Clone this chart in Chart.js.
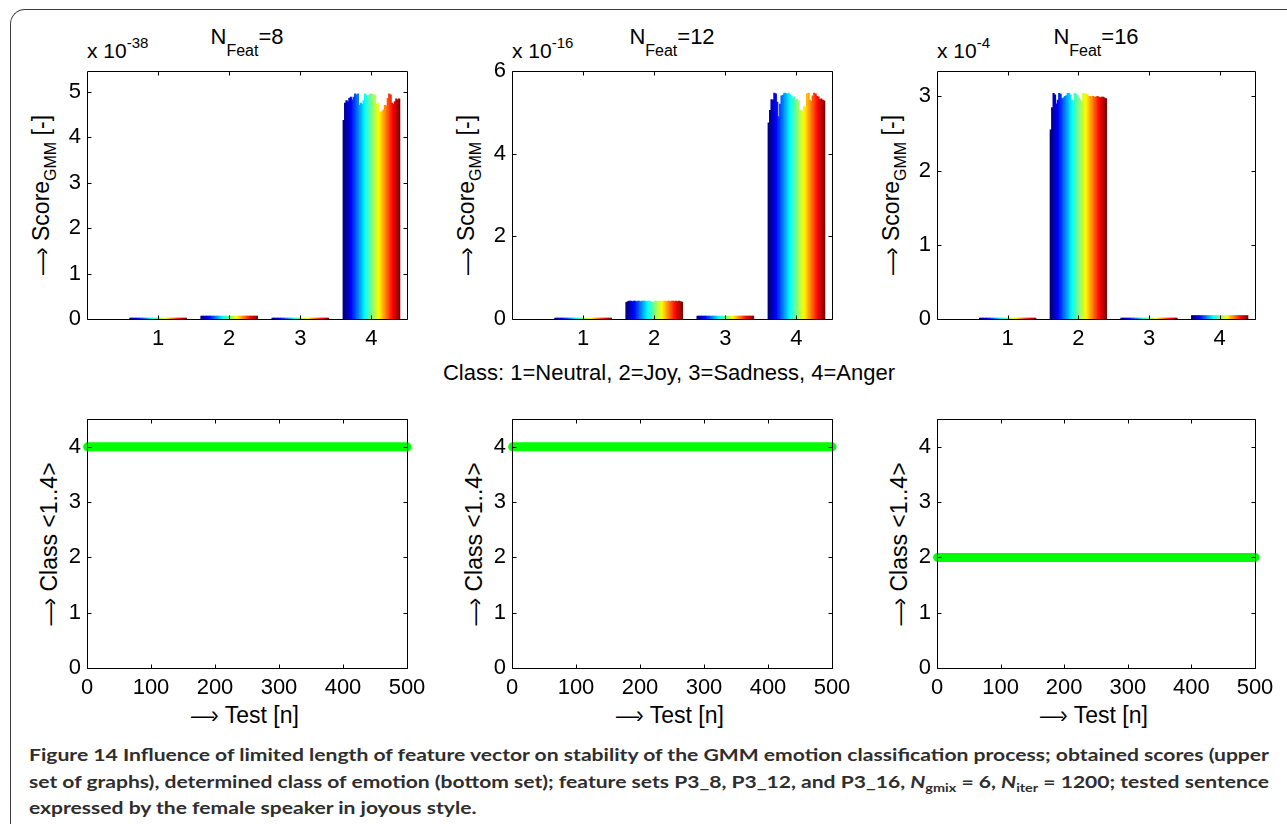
<!DOCTYPE html>
<html>
<head>
<meta charset="utf-8">
<script src="https://cdn.jsdelivr.net/npm/chart.js@4.4.1/dist/chart.umd.min.js"></script>
<style>
  html, body { margin: 0; padding: 0; background: #fff; }
  #page { position: relative; width: 1287px; height: 824px; overflow: hidden;
          font-family: "Liberation Sans", Arial, Helvetica, sans-serif; color: #000; }
  .frame { position: absolute; left: 10px; top: 9px; width: 1320px; height: 860px;
           border-left: 1.5px solid #3c3c3c; border-top: 1.5px solid #3c3c3c;
           border-top-left-radius: 15px; box-sizing: border-box; }
  canvas { position: absolute; }
  .t { position: absolute; white-space: nowrap; line-height: 1; }
  .t sub, .t sup { line-height: 0; }
  .title { font-size: 22px; transform: translateX(-50%); }
  .title sub { font-size: 16px; vertical-align: -12px; }
  .expo { font-size: 21px; }
  .expo sup { font-size: 15px; vertical-align: 10px; }
  .ylab { font-size: 23px; line-height: 23px; transform-origin: 0 0;
          transform: rotate(-90deg) translate(-50%, -50%); }
  .ylab sub { font-size: 16px; vertical-align: -7px; }
  .xlab { font-size: 23px; transform: translateX(-50%); }
  .arrow { letter-spacing: -3px; }
  .classkey { font-size: 22px; transform: translateX(-50%); }
  .cap { position: absolute; left: 29px; top: 742px; font-family: Lato, "Open Sans", sans-serif;
         font-weight: 700; font-size: 17.5px; color: #2e2e2e; }
  .capline { white-space: nowrap; height: 26.5px; line-height: 26px; transform-origin: 0 50%; }
  .capline sub { font-size: 12px; line-height: 0; vertical-align: -4px; }
</style>
</head>
<body>
<div id="page">
  <div class="frame"></div>

  <!-- score panels: titles and axis multipliers -->
  <div class="t title" style="left:247px; top:26.4px">N<sub>Feat</sub>=8</div>
  <div class="t title" style="left:672px; top:26.4px">N<sub>Feat</sub>=12</div>
  <div class="t title" style="left:1096px; top:26.4px">N<sub>Feat</sub>=16</div>
  <div class="t expo" style="left:87px; top:40.2px">x 10<sup>-38</sup></div>
  <div class="t expo" style="left:512px; top:40.2px">x 10<sup>-16</sup></div>
  <div class="t expo" style="left:937px; top:40.2px">x 10<sup>-4</sup></div>

  <div class="t ylab" style="left:41px; top:195px"><span class="arrow">—</span>› Score<sub>GMM</sub> [-]</div>
  <div class="t ylab" style="left:466px; top:195px"><span class="arrow">—</span>› Score<sub>GMM</sub> [-]</div>
  <div class="t ylab" style="left:891px; top:195px"><span class="arrow">—</span>› Score<sub>GMM</sub> [-]</div>

  <div class="t classkey" style="left:669px; top:362.4px">Class: 1=Neutral, 2=Joy, 3=Sadness, 4=Anger</div>

  <!-- class panels: axis titles -->
  <div class="t ylab" style="left:48.5px; top:544px"><span class="arrow">—</span>› Class &lt;1..4&gt;</div>
  <div class="t ylab" style="left:473.5px; top:544px"><span class="arrow">—</span>› Class &lt;1..4&gt;</div>
  <div class="t ylab" style="left:898.5px; top:544px"><span class="arrow">—</span>› Class &lt;1..4&gt;</div>
  <div class="t xlab" style="left:245px; top:703.5px"><span class="arrow">—</span>› Test [n]</div>
  <div class="t xlab" style="left:670px; top:703.5px"><span class="arrow">—</span>› Test [n]</div>
  <div class="t xlab" style="left:1094px; top:703.5px"><span class="arrow">—</span>› Test [n]</div>

  <div class="cap">
    <div class="capline" data-fit="1269">Figure 14 Influence of limited length of feature vector on stability of the GMM emotion classification process; obtained scores (upper</div>
    <div class="capline" data-fit="1269">set of graphs), determined class of emotion (bottom set); feature sets P3_8, P3_12, and P3_16, <i>N</i><sub>gmix</sub> = 6, <i>N</i><sub>iter</sub> = 1200; tested sentence</div>
    <div class="capline">expressed by the female speaker in joyous style.</div>
  </div>
</div>

<script>
// ---- data -------------------------------------------------------------
const classTicks = [1, 2, 3, 4];          // 1=Neutral, 2=Joy, 3=Sadness, 4=Anger

// GMM scores, one bar series per test run (runs coloured blue -> red)
// N_Feat = 8, scores in units of 1e-38
const scoreF8Neutral = [0.02,0.02,0.02,0.02,0.02,0.02,0.02,0.02,0.02,0.02,0.02,0.02,0.02,0.02,0.02,0.02,0.02,0.02,0.02,0.02,0.02,0.02,0.02,0.02,0.02,0.02,0.02,0.02,0.02,0.02,0.02,0.02,0.02,0.02,0.02,0.02,0.02,0.02,0.02,0.02];
const scoreF8Joy     = [0.06,0.06,0.06,0.06,0.06,0.06,0.06,0.06,0.06,0.06,0.06,0.06,0.06,0.06,0.06,0.06,0.06,0.06,0.06,0.06,0.06,0.06,0.06,0.06,0.06,0.06,0.06,0.06,0.06,0.06,0.06,0.06,0.06,0.06,0.06,0.06,0.06,0.06,0.06,0.06];
const scoreF8Sadness = [0.02,0.02,0.02,0.02,0.02,0.02,0.02,0.02,0.02,0.02,0.02,0.02,0.02,0.02,0.02,0.02,0.02,0.02,0.02,0.02,0.02,0.02,0.02,0.02,0.02,0.02,0.02,0.02,0.02,0.02,0.02,0.02,0.02,0.02,0.02,0.02,0.02,0.02,0.02,0.02];
const scoreF8Anger   = [4.37,4.75,4.80,4.78,4.85,4.88,4.82,4.88,4.95,4.93,4.95,4.70,4.75,4.72,4.80,4.95,4.92,4.85,4.93,4.95,4.94,4.90,4.93,4.72,4.75,4.55,4.55,4.56,4.60,4.70,4.68,4.85,4.95,4.93,4.75,4.72,4.78,4.84,4.82,4.84];

// N_Feat = 12, scores in units of 1e-16
const scoreF12Neutral = [0.02,0.02,0.02,0.02,0.02,0.02,0.02,0.02,0.02,0.02,0.02,0.02,0.02,0.02,0.02,0.02,0.02,0.02,0.02,0.02,0.02,0.02,0.02,0.02,0.02,0.02,0.02,0.02,0.02,0.02,0.02,0.02,0.02,0.02,0.02,0.02,0.02,0.02,0.02,0.02];
const scoreF12Joy     = [0.40,0.42,0.43,0.43,0.42,0.43,0.43,0.42,0.43,0.43,0.42,0.43,0.43,0.43,0.42,0.43,0.43,0.42,0.40,0.41,0.43,0.43,0.42,0.43,0.43,0.42,0.43,0.43,0.42,0.43,0.43,0.42,0.43,0.43,0.42,0.43,0.42,0.43,0.42,0.41];
const scoreF12Sadness = [0.07,0.07,0.07,0.07,0.07,0.07,0.07,0.07,0.07,0.07,0.07,0.07,0.07,0.07,0.07,0.07,0.07,0.07,0.07,0.07,0.07,0.07,0.07,0.07,0.07,0.07,0.07,0.07,0.07,0.07,0.07,0.07,0.07,0.07,0.07,0.07,0.07,0.07,0.07,0.07];
const scoreF12Anger   = [4.75,5.05,5.31,5.30,5.47,5.45,5.25,4.90,5.20,5.40,5.42,5.47,5.46,5.44,5.47,5.43,5.40,5.35,5.38,5.30,5.32,5.28,5.03,5.05,5.02,5.15,5.12,5.45,5.47,5.30,5.27,5.40,5.47,5.45,5.39,5.38,5.31,5.33,5.30,5.28];

// N_Feat = 16, scores in units of 1e-4
const scoreF16Neutral = [0.01,0.01,0.01,0.01,0.01,0.01,0.01,0.01,0.01,0.01,0.01,0.01,0.01,0.01,0.01,0.01,0.01,0.01,0.01,0.01,0.01,0.01,0.01,0.01,0.01,0.01,0.01,0.01,0.01,0.01,0.01,0.01,0.01,0.01,0.01,0.01,0.01,0.01,0.01,0.01];
const scoreF16Joy     = [2.55,2.85,3.04,3.02,2.90,2.95,3.04,3.03,2.97,2.98,3.00,3.01,3.04,3.04,3.02,2.95,2.94,3.04,3.03,3.01,2.98,2.95,2.93,3.04,3.04,3.03,3.02,3.00,3.00,2.99,3.00,2.99,2.99,3.00,2.99,2.98,2.99,2.99,2.98,2.97];
const scoreF16Sadness = [0.01,0.01,0.01,0.01,0.01,0.01,0.01,0.01,0.01,0.01,0.01,0.01,0.01,0.01,0.01,0.01,0.01,0.01,0.01,0.01,0.01,0.01,0.01,0.01,0.01,0.01,0.01,0.01,0.01,0.01,0.01,0.01,0.01,0.01,0.01,0.01,0.01,0.01,0.01,0.01];
const scoreF16Anger   = [0.045,0.045,0.045,0.045,0.045,0.045,0.045,0.045,0.045,0.045,0.045,0.045,0.045,0.045,0.045,0.045,0.045,0.045,0.045,0.045,0.045,0.045,0.045,0.045,0.045,0.045,0.045,0.045,0.045,0.045,0.045,0.045,0.045,0.045,0.045,0.045,0.045,0.045,0.045,0.045];

// score axis limits and ticks
const scoreMaxF8 = 5.45,  scoreTicksF8  = [0, 1, 2, 3, 4, 5];
const scoreMaxF12 = 6,    scoreTicksF12 = [0, 2, 4, 6];
const scoreMaxF16 = 3.34, scoreTicksF16 = [0, 1, 2, 3];

// decided class for every one of the 500 tests
const testCount = 500;
const decidedClassF8  = new Array(testCount).fill(4);
const decidedClassF12 = new Array(testCount).fill(4);
const decidedClassF16 = new Array(testCount).fill(2);
const testTicks  = [0, 100, 200, 300, 400, 500];
const classAxisTicks = [0, 1, 2, 3, 4];

// ---- layout -----------------------------------------------------------
const AXIS_W = 60, PAD_T = 15, PAD_R = 30, AXIS_H = 42;
const FONT = '"Liberation Sans", Arial, Helvetica, sans-serif';

function jet(t) {
  const f = v => Math.round(255 * Math.max(0, Math.min(1, v)));
  return `rgb(${f(1.5 - Math.abs(4 * t - 3))},${f(1.5 - Math.abs(4 * t - 2))},${f(1.5 - Math.abs(4 * t - 1))})`;
}

function makeCanvas(box) {
  const c = document.createElement('canvas');
  const w = box[2] - box[0] + AXIS_W + PAD_R;
  const h = box[3] - box[1] + PAD_T + AXIS_H;
  c.width = w; c.height = h;
  c.style.width = w + 'px'; c.style.height = h + 'px';
  c.style.left = (box[0] - AXIS_W) + 'px';
  c.style.top = (box[1] - PAD_T) + 'px';
  document.getElementById('page').appendChild(c);
  return c;
}

function axis(min, max, ticks, isX) {
  return {
    type: 'linear', min, max, offset: false,
    grid: { display: false, drawTicks: false },
    border: { display: false },
    ticks: { font: { family: FONT, size: 22 }, color: '#000', padding: isX ? 7 : 6,
             maxRotation: 0, autoSkip: false },
    afterBuildTicks: s => { s.ticks = ticks.map(v => ({ value: v })); },
    afterFit: s => { if (isX) s.height = AXIS_H; else s.width = AXIS_W; }
  };
}

// closed axes box with inward tick marks on all four sides
const axesBox = {
  id: 'axesBox',
  afterDatasetsDraw(chart) {
    const { ctx, chartArea: a, scales: { x, y } } = chart;
    const L = Math.round(a.left) + 0.5, R = Math.round(a.right) + 0.5;
    const T = Math.round(a.top) + 0.5, B = Math.round(a.bottom) + 0.5;
    const len = 4;
    ctx.save();
    ctx.strokeStyle = '#000';
    ctx.lineWidth = 1;
    ctx.beginPath();
    ctx.rect(L, T, R - L, B - T);
    x.ticks.forEach(t => {
      const px = Math.round(x.getPixelForValue(t.value)) + 0.5;
      ctx.moveTo(px, B); ctx.lineTo(px, B - len);
      ctx.moveTo(px, T); ctx.lineTo(px, T + len);
    });
    y.ticks.forEach(t => {
      const py = Math.round(y.getPixelForValue(t.value)) + 0.5;
      ctx.moveTo(L, py); ctx.lineTo(L + len, py);
      ctx.moveTo(R, py); ctx.lineTo(R - len, py);
    });
    ctx.stroke();
    ctx.restore();
  }
};

const baseOptions = {
  responsive: false, animation: false, devicePixelRatio: 1,
  layout: { autoPadding: false, padding: { left: 0, right: PAD_R, top: PAD_T, bottom: 0 } },
  plugins: { legend: { display: false }, tooltip: { enabled: false } },
  events: []
};

function scoreChart(box, groups, yMax, yTicks) {
  const runs = groups[0].length;
  const datasets = [];
  for (let i = 0; i < runs; i++) {
    const col = jet(i / (runs - 1));
    datasets.push({
      data: classTicks.map((c, k) => ({ x: c, y: groups[k][i] })),
      backgroundColor: col, borderWidth: 0, inflateAmount: 0.4,
      categoryPercentage: 0.8, barPercentage: 1.0
    });
  }
  new Chart(makeCanvas(box), {
    type: 'bar',
    data: { datasets },
    options: Object.assign({}, baseOptions, {
      scales: { x: axis(0, 4.5, classTicks, true), y: axis(0, yMax, yTicks, false) }
    }),
    plugins: [axesBox]
  });
}

function classChart(box, decided) {
  new Chart(makeCanvas(box), {
    type: 'line',
    data: { datasets: [{
      data: decided.map((c, i) => ({ x: i + 1, y: c })),
      borderColor: '#00ff00', borderWidth: 9, borderCapStyle: 'round', borderJoinStyle: 'round',
      pointRadius: 0, tension: 0, clip: false, fill: false
    }] },
    options: Object.assign({}, baseOptions, {
      scales: { x: axis(0, 500, testTicks, true), y: axis(0, 4.5, classAxisTicks, false) }
    }),
    plugins: [axesBox]
  });
}

scoreChart([87, 67, 407, 319],  [scoreF8Neutral, scoreF8Joy, scoreF8Sadness, scoreF8Anger], scoreMaxF8, scoreTicksF8);
scoreChart([512, 67, 832, 319], [scoreF12Neutral, scoreF12Joy, scoreF12Sadness, scoreF12Anger], scoreMaxF12, scoreTicksF12);
scoreChart([937, 67, 1255, 319], [scoreF16Neutral, scoreF16Joy, scoreF16Sadness, scoreF16Anger], scoreMaxF16, scoreTicksF16);

classChart([87, 415, 407, 668],  decidedClassF8);
classChart([512, 415, 832, 668], decidedClassF12);
classChart([937, 415, 1255, 668], decidedClassF16);

// stretch the full caption lines to the frame width
const capLeft = 29;
let lastScale = 1;
document.querySelectorAll('.capline').forEach(el => {
  el.style.display = 'inline-block';
  const w = el.getBoundingClientRect().width;
  if (el.dataset.fit) lastScale = (Number(el.dataset.fit) - capLeft) / w;
  el.style.transform = `scaleX(${lastScale})`;
  el.style.display = 'block';
});
</script>
</body>
</html>
